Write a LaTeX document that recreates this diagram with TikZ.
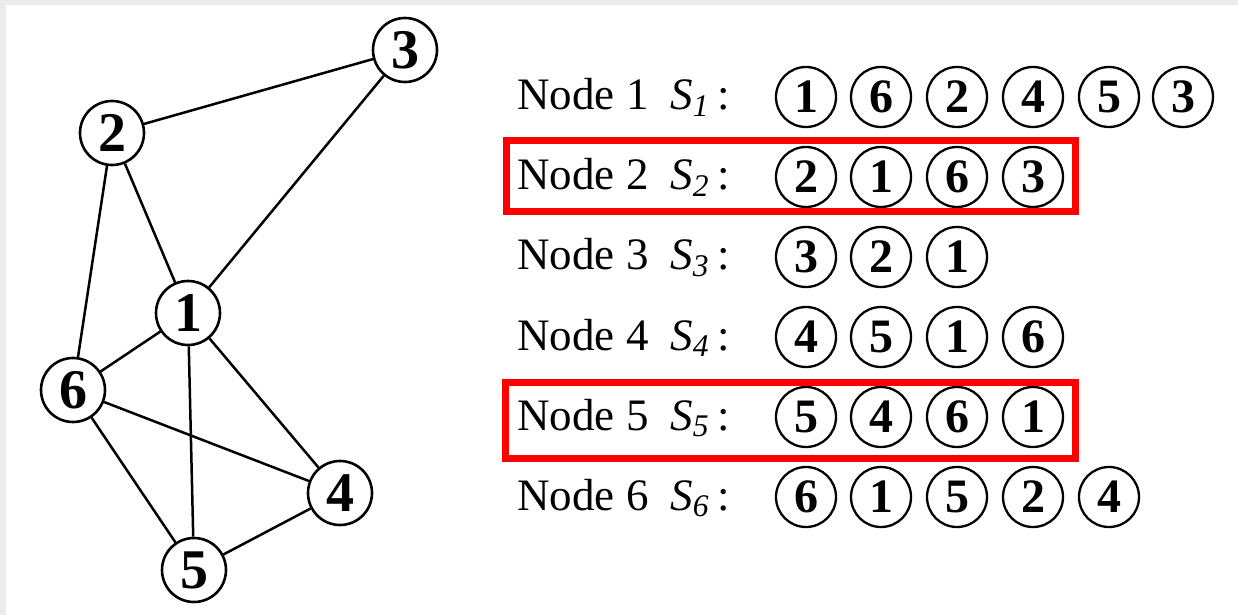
\documentclass[tikz,border=0pt]{standalone}
\usepackage{fontspec}
\setmainfont{Liberation Serif}
\tikzset{
  vtx/.style={circle,draw,line width=1.3pt,fill=white,minimum size=32pt,inner sep=0pt,
    font=\fontsize{28}{28}\selectfont\bfseries},
  seqnode/.style={circle,draw,line width=1.15pt,minimum size=30pt,inner sep=0pt,
    font=\fontsize{24}{24}\selectfont\bfseries},
  lbl/.style={anchor=base west,inner sep=0pt,font=\fontsize{22.5}{24}\selectfont},
  hilite/.style={draw=red,line width=3.5pt},
  link/.style={line width=1.25pt}
}
\newcommand{\setname}[1]{\textit{S}\textsubscript{\textit{#1}}\,:}
\begin{document}
\begin{tikzpicture}[x=0.5pt,y=-0.5pt]
  \fill[black!8] (0,0) rectangle (1238,615);
  \fill[white] (6,5) rectangle (1238,615);
  \useasboundingbox (0,0) rectangle (1238,615);
  % graph
  \node[vtx] (n1) at (188,313) {1};
  \node[vtx] (n2) at (112,133) {2};
  \node[vtx] (n3) at (405,50) {3};
  \node[vtx] (n4) at (340,493) {4};
  \node[vtx] (n5) at (194,570) {5};
  \node[vtx] (n6) at (73,390) {6};
  \draw[link] (n2) -- (n3);  \draw[link] (n3) -- (n1);
  \draw[link] (n2) -- (n1);  \draw[link] (n2) -- (n6);
  \draw[link] (n1) -- (n6);  \draw[link] (n1) -- (n5);
  \draw[link] (n1) -- (n4);  \draw[link] (n6) -- (n4);
  \draw[link] (n6) -- (n5);  \draw[link] (n5) -- (n4);
  % sets
  \node[lbl] (lbl1) at (517,110) {Node 1}; \node[lbl] (set1) at (670,110) {\setname{1}};
  \node[seqnode] (s11) at (806,97) {1}; \node[seqnode] (s12) at (881,97) {6};
  \node[seqnode] (s13) at (957,97) {2}; \node[seqnode] (s14) at (1033,97) {4};
  \node[seqnode] (s15) at (1109,97) {5}; \node[seqnode] (s16) at (1183,97) {3};
  \node[lbl] (lbl2) at (517,190) {Node 2}; \node[lbl] (set2) at (670,190) {\setname{2}};
  \node[seqnode] (s21) at (806,177) {2}; \node[seqnode] (s22) at (881,177) {1};
  \node[seqnode] (s23) at (957,177) {6}; \node[seqnode] (s24) at (1033,177) {3};
  \node[lbl] (lbl3) at (517,270) {Node 3}; \node[lbl] (set3) at (670,270) {\setname{3}};
  \node[seqnode] (s31) at (806,257) {3}; \node[seqnode] (s32) at (881,257) {2};
  \node[seqnode] (s33) at (957,257) {1};
  \node[lbl] (lbl4) at (517,350) {Node 4}; \node[lbl] (set4) at (670,350) {\setname{4}};
  \node[seqnode] (s41) at (806,337) {4}; \node[seqnode] (s42) at (881,337) {5};
  \node[seqnode] (s43) at (957,337) {1}; \node[seqnode] (s44) at (1033,337) {6};
  \node[lbl] (lbl5) at (517,430) {Node 5}; \node[lbl] (set5) at (670,430) {\setname{5}};
  \node[seqnode] (s51) at (806,417) {5}; \node[seqnode] (s52) at (881,417) {4};
  \node[seqnode] (s53) at (957,417) {6}; \node[seqnode] (s54) at (1033,417) {1};
  \node[lbl] (lbl6) at (517,510) {Node 6}; \node[lbl] (set6) at (670,510) {\setname{6}};
  \node[seqnode] (s61) at (806,497) {6}; \node[seqnode] (s62) at (881,497) {1};
  \node[seqnode] (s63) at (957,497) {5}; \node[seqnode] (s64) at (1033,497) {2};
  \node[seqnode] (s65) at (1109,497) {4};
  % highlighted rows
  \draw[hilite] (506,141) rectangle (1075,212);
  \draw[hilite] (505,382) rectangle (1075,458);
\end{tikzpicture}
\end{document}
